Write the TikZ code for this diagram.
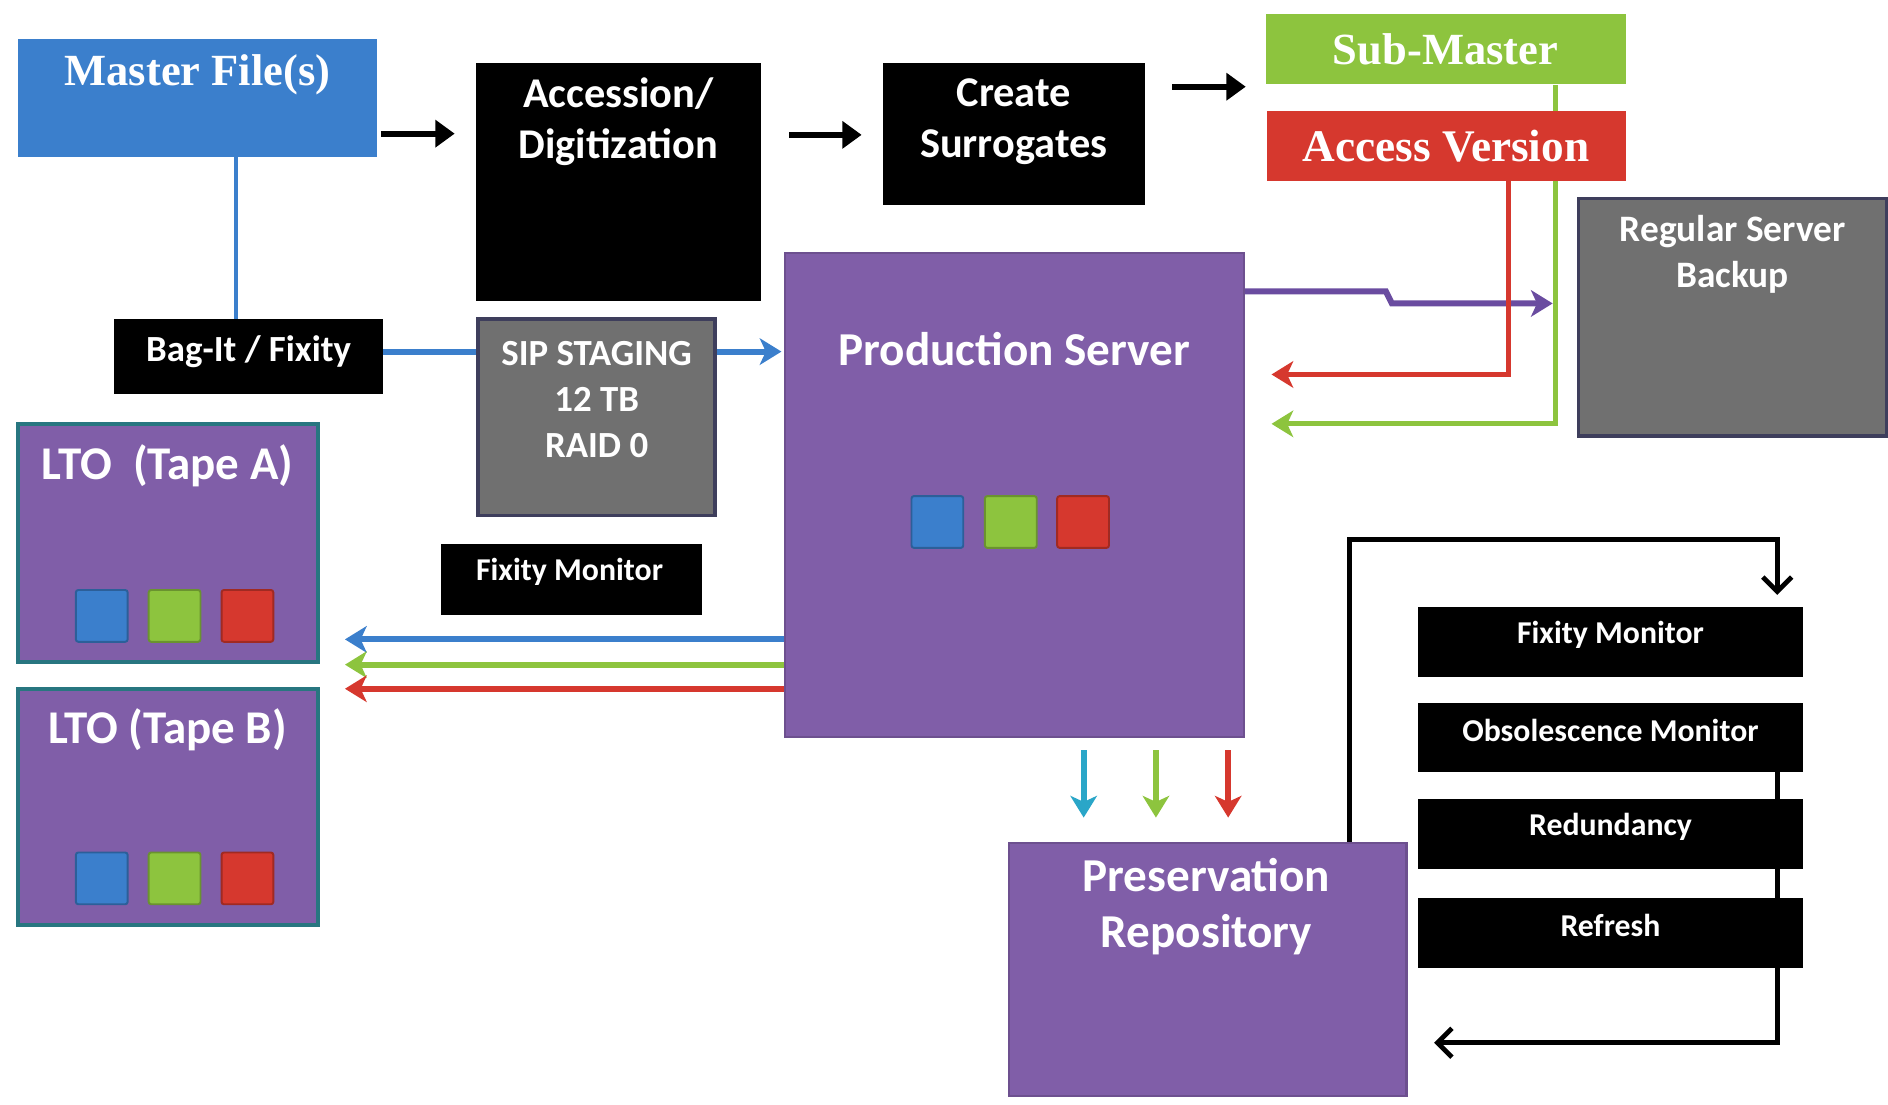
\documentclass[tikz,border=0pt]{standalone}
\usepackage{fontspec}
\setmainfont{Carlito}
\newfontfamily\cambria{Liberation Serif}
\usetikzlibrary{arrows.meta,backgrounds,calc}

\definecolor{mblue}{RGB}{59,127,204}
\definecolor{mpurple}{RGB}{128,94,168}
\definecolor{mteal}{RGB}{40,118,128}
\definecolor{mgrey}{RGB}{112,112,112}
\definecolor{mgreyline}{RGB}{62,62,92}
\definecolor{mgreen}{RGB}{141,196,62}
\definecolor{mred}{RGB}{214,56,46}
\definecolor{mcyan}{RGB}{42,166,200}
\definecolor{marrow}{RGB}{106,76,160}

\newcommand{\fsz}[2]{\fontsize{#1}{#2}\selectfont}

\tikzstyle{blackbox}=[fill=black,inner sep=0pt]
\tikzstyle{purplebox}=[fill=mpurple,draw=mpurple!85!black,line width=1pt,inner sep=0pt]
\tikzstyle{tapebox}=[fill=mpurple,draw=mteal,line width=1.5pt,inner sep=0pt]
\tikzstyle{greybox}=[fill=mgrey,draw=mgreyline,line width=1.5pt,inner sep=0pt]
\tikzstyle{boxtext}=[text=white,font=\bfseries,align=center,inner sep=0pt]
\tikzstyle{fwdarrow}=[line width=2.5pt,-{Triangle[length=8pt,width=11pt]}]
\tikzstyle{cflow}=[line width=2.5pt,-{Stealth[length=9pt,width=11pt,inset=2.5pt]}]
\tikzstyle{cycleline}=[line width=2pt,-{Straight Barb[length=6pt,width=12pt,line width=2pt]}]
\tikzset{chip/.style={draw=#1!75!black,fill=#1,line width=0.8pt,minimum size=21.5pt,inner sep=0pt,rounded corners=1pt}}

\begin{document}
\begin{tikzpicture}[x=0.5pt,y=-0.5pt]
\useasboundingbox (0,0) rectangle (1568,917);

% top row
\node (master)[fill=mblue,minimum width=149pt,minimum height=49pt,inner sep=0pt] at (164,81) {};
\node (masterT)[boxtext,font=\cambria\bfseries\fsz{18.5}{20}] at (164,62) {Master File(s)};
\node (access)[blackbox,minimum width=118.5pt,minimum height=99pt] at (513.5,151) {};
\node (accessT)[boxtext,font=\bfseries\fsz{17.6}{21}] at (513.5,101) {Accession/\\Digitization};
\node (surr)[blackbox,minimum width=109pt,minimum height=59pt] at (842,111) {};
\node (surrT)[boxtext,font=\bfseries\fsz{17.6}{21}] at (842,101) {Create\\Surrogates};
\node (sub)[fill=mgreen,minimum width=149.5pt,minimum height=29pt,inner sep=0pt] at (1200.5,41) {};
\node (subT)[boxtext,font=\cambria\bfseries\fsz{18.5}{20}] at (1200.5,41) {Sub-Master};
\node (accv)[fill=mred,minimum width=149pt,minimum height=29pt,inner sep=0pt] at (1201,121) {};
\node (accvT)[boxtext,font=\cambria\bfseries\fsz{18.8}{20}] at (1201,121) {Access Version};
\node (backup)[greybox,minimum width=128pt,minimum height=98.5pt] at (1439,263.5) {};
\node (backupT)[boxtext,font=\bfseries\fsz{15.5}{19}] at (1439,211) {Regular Server\\Backup};

% middle
\node (bag)[blackbox,minimum width=111.5pt,minimum height=31pt] at (206.5,296) {};
\node (bagT)[boxtext,font=\bfseries\fsz{15.3}{16}] at (206.5,292) {Bag-It / Fixity};
\node (sip)[greybox,minimum width=98.5pt,minimum height=81.5pt] at (495.5,346.5) {};
\node (sipT)[boxtext,font=\bfseries\fsz{15.3}{19}] at (495.5,332) {SIP STAGING\\12 TB\\RAID 0};
\node (fixl)[blackbox,minimum width=108.5pt,minimum height=29.5pt] at (474.5,481.5) {};
\node (fixlT)[boxtext,font=\bfseries\fsz{13.2}{14}] at (473,475) {Fixity Monitor};
\node (prod)[purplebox,minimum width=190.5pt,minimum height=201pt] at (842.5,411) {};
\node (prodT)[boxtext,font=\bfseries\fsz{19.6}{20}] at (842.5,290) {Production Server};
\foreach \c/\xx in {mblue/778.5,mgreen/839.5,mred/899.5}
  \node (p\c)[chip=\c] at (\xx,433.5) {};

% tapes
\node (ltoa)[tapebox,minimum width=124.5pt,minimum height=99pt] at (139.5,451) {};
\node (ltoaT)[boxtext,font=\bfseries\fsz{19.5}{20}] at (139,387) {LTO\ \ (Tape A)};
\node (ltob)[tapebox,minimum width=124.5pt,minimum height=98pt] at (139.5,670) {};
\node (ltobT)[boxtext,font=\bfseries\fsz{19.5}{20}] at (139,606) {LTO (Tape B)};
\foreach \c/\xx in {mblue/84.5,mgreen/145,mred/205.5}{
  \node (a\c)[chip=\c] at (\xx,511.5) {};
  \node (b\c)[chip=\c] at (\xx,729.5) {};
}

% preservation side
\node (pres)[purplebox,minimum width=165pt,minimum height=105pt] at (1003,805) {};
\node (presT)[boxtext,font=\bfseries\fsz{19.6}{23.5}] at (1002,753) {Preservation\\Repository};
\foreach \nm/\yy/\txt in {fixr/533.5/Fixity Monitor,obs/612.5/Obsolescence Monitor,redun/692.5/Redundancy,refr/775/Refresh}{
  \node (\nm)[blackbox,minimum width=159.5pt,minimum height=29pt] at (1337.5,\yy) {};
  \node (\nm-t)[boxtext,font=\bfseries\fsz{13.2}{14}] at (1337.5,\yy-6) {\txt};
}

% connectors
\draw[fwdarrow] ($(master.east)+(3,30)$) -- ($(access.west)+(-17,-40)$);
\draw[fwdarrow] ($(access.east)+(23,-39)$) -- ($(surr.west)+(-17,1)$);
\draw[fwdarrow] ($(surr.east)+(22,-39)$) -- ($(sub.west)+(-16,31)$);
\draw[mblue,line width=2pt] ($(master.south)+(32,0)$) -- ($(bag.north)+(-10.5,0)$);
\draw[mblue,line width=2.5pt] ($(bag.east)+(0,-4)$) -- ($(sip.west)+(0,-54.5)$);
\draw[cflow,mblue] ($(sip.east)+(0,-54.5)$) -- ($(prod.west)+(-2,-119)$);
\draw[cflow,marrow] ($(prod.east)+(0,-169)$) -- ++(117,0) -- ++(5,10) -- ($(backup.west)+(-20,-11.5)$);
\draw[cflow,mred,line width=2pt] ($(accv.south)+(52,0)$) |- ($(prod.east)+(22,-100)$);
\foreach \c/\dy/\ey in {mblue/120/80,mgreen/141/101,mred/161/121}
  \draw[cflow,\c] ($(prod.west)+(0,\dy)$) -- ($(ltoa.east)+(21,\ey)$);
\foreach \c/\dx/\ex in {mcyan/57.5/-103,mgreen/117.5/-43,mred/177.5/17}
  \draw[cflow,\c] ($(prod.south)+(\dx,10)$) -- ($(pres.north)+(\ex,-20)$);
\draw[cycleline] ($(pres.north)+(118,0)$) -- ++(0,-251) -| ($(fixr.north)+(138.5,-10)$);
\begin{pgfonlayer}{background}
\draw[cflow,mgreen,line width=2pt] ($(sub.south)+(91.5,0)$) |- ($(prod.east)+(22,-59)$);
\draw[cycleline] ($(obs.center)+(138.5,0)$) |- ($(pres.east)+(22,61)$);
\end{pgfonlayer}
\end{tikzpicture}
\end{document}
